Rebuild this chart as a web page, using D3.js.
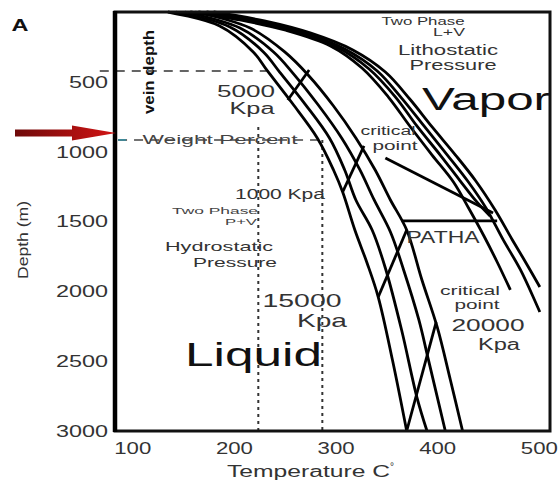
<!DOCTYPE html>
<html><head><meta charset="utf-8">
<script src="https://cdn.jsdelivr.net/npm/d3@7"></script>
<style>body{margin:0;background:#fff}</style>
</head><body>
<svg id="chart" width="558" height="485"></svg>
<script>
// Axis ticks
const depthTicks = [500, 1000, 1500, 2000, 2500, 3000];
const tempTicks = [100, 200, 300, 400, 500];

// Liquid-side boiling curves, [temperature °C, depth m]
const curveL1 = [[135,0],[186,100],[219,286],[233,422],[258,659],[282,902],[298,1131],[307,1289],[319,1561],[331,1797],[342,2041],[356,2492],[370,3000]];
const curveL2 = [[143,0],[196,107],[229,286],[245,430],[270,659],[294,902],[309,1131],[320,1346],[336,1561],[349,1833],[365,2277],[380,2757],[390,3000]];
const curveL3 = [[152,0],[206,115],[239,286],[258,437],[283,666],[306,902],[324,1131],[338,1346],[354,1575],[367,1847],[382,2205],[391,2478],[408,3000]];
const curveL4 = [[162,0],[216,115],[250,286],[273,451],[298,673],[320,902],[339,1131],[354,1346],[370,1561],[385,1919],[400,2255],[413,2635],[425,3000]];

// Cross paths cutting through the liquid-side bundle
const crossPaths = [
  [[274,415],[253,630]],
  [[328,959],[307,1289]],
  [[370,1561],[342,2041]],
  [[399,2220],[370,3000]]
];

// Vapour-side curves
const curveR1 = [[157,0],[206,57],[250,129],[295,243],[326,401],[352,609],[373,816],[395,1024],[416,1217],[432,1418],[446,1604],[459,1790],[472,1990]];
const curveRx = [[165,0],[214,57],[258,136],[301,251],[333,408],[359,609],[380,816],[403,1024],[422,1203],[439,1360],[452,1461]];
const curveR2 = [[173,0],[222,64],[267,143],[309,265],[341,422],[365,616],[387,816],[410,1024],[430,1210],[448,1403],[465,1632],[482,1847],[501,2148]];
const curveR3 = [[180,0],[230,64],[275,150],[317,272],[349,430],[373,623],[395,823],[418,1024],[438,1210],[457,1418],[474,1632],[488,1804],[501,1969]];

// Critical point tie line and path A
const criticalLine = [[349,1045],[455,1439]];
const pathA = [[365,1495],[459,1495]];

// Reference lines
const veinDepth = {depth: 422, from: 68, to: 232};
const weightPercent = {depth: 916, from: 86, to: 283};
const isotherms = [{temp: 224, from: 823}, {temp: 287, from: 916}];
const arrowDepth = 866;

const svg = d3.select("#chart");
const FONT = "'Liberation Sans', Arial, sans-serif";
const x = d3.scaleLinear().domain([83, 511]).range([115, 550]);
const y = d3.scaleLinear().domain([0, 3000]).range([12, 431]);
const line = d3.line().x(d => x(d[0])).y(d => y(d[1])).curve(d3.curveCatmullRom);

// reference dashed / dotted lines
svg.append("line")
  .attr("x1", x(veinDepth.from)).attr("x2", x(veinDepth.to))
  .attr("y1", y(veinDepth.depth)).attr("y2", y(veinDepth.depth))
  .attr("stroke", "#333").attr("stroke-width", 1.6).attr("stroke-dasharray", "9,7");
svg.append("line")
  .attr("x1", x(weightPercent.from)).attr("x2", x(weightPercent.to))
  .attr("y1", y(weightPercent.depth)).attr("y2", y(weightPercent.depth))
  .attr("stroke", "#444").attr("stroke-width", 1.6).attr("stroke-dasharray", "9,7");
svg.append("line")
  .attr("x1", x(weightPercent.from)).attr("x2", x(weightPercent.from) + 8)
  .attr("y1", y(weightPercent.depth)).attr("y2", y(weightPercent.depth))
  .attr("stroke", "#3d8a9a").attr("stroke-width", 1.8);
svg.selectAll("line.iso").data(isotherms).join("line")
  .attr("class", "iso")
  .attr("x1", d => x(d.temp)).attr("x2", d => x(d.temp))
  .attr("y1", d => y(d.from)).attr("y2", y(3000))
  .attr("stroke", "#333").attr("stroke-width", 2).attr("stroke-dasharray", "3,4");

// curves
const curves = [curveL1, curveL2, curveL3, curveL4, curveR1, curveRx, curveR2, curveR3, ...crossPaths, criticalLine, pathA];
svg.selectAll("path.curve").data(curves).join("path")
  .attr("class", "curve")
  .attr("d", line)
  .attr("fill", "none").attr("stroke", "#000").attr("stroke-width", 2.8)
  .attr("stroke-linejoin", "round");

// frame
svg.append("rect").attr("x", 115).attr("y", 12).attr("width", 435).attr("height", 419)
  .attr("fill", "none").attr("stroke", "#111").attr("stroke-width", 3);
svg.append("line").attr("x1", 115).attr("x2", 115).attr("y1", 11).attr("y2", 432)
  .attr("stroke", "#000").attr("stroke-width", 4.5);

// axes
const yAxis = svg.append("g").attr("transform", "translate(115,0)")
  .call(d3.axisLeft(y).tickValues(depthTicks).tickFormat(d3.format("d")).tickSize(0).tickPadding(7));
yAxis.select(".domain").remove();
yAxis.selectAll("text").attr("font-family", FONT).attr("font-size", 17).attr("fill", "#333")
  .attr("textLength", d => String(d).length * 13).attr("lengthAdjust", "spacingAndGlyphs");

const xAxis = svg.append("g").attr("transform", "translate(0,431)")
  .call(d3.axisBottom(x).tickValues(tempTicks).tickFormat(d3.format("d")).tickSize(0).tickPadding(11));
xAxis.select(".domain").remove();
xAxis.selectAll("text").attr("font-family", FONT).attr("font-size", 17).attr("fill", "#333")
  .attr("textLength", 37).attr("lengthAdjust", "spacingAndGlyphs");

// text helper
function label(txt, cx, by, size, len, opts = {}) {
  const t = svg.append("text")
    .attr("x", cx).attr("y", by)
    .attr("text-anchor", opts.anchor || "middle")
    .attr("font-family", FONT).attr("font-size", size)
    .attr("font-weight", opts.bold ? "bold" : "normal")
    .attr("fill", opts.fill || "#222")
    .attr("textLength", len).attr("lengthAdjust", "spacingAndGlyphs")
    .text(txt);
  if (opts.rotate) t.attr("transform", `rotate(-90,${cx},${by})`);
  return t;
}

label("A", 20, 31, 17, 17, {bold: true, fill: "#111"});
label("vein depth", 154, 72, 15, 84, {bold: true, rotate: true, fill: "#111"});
label("Depth (m)", 28, 240, 15, 78, {rotate: true, fill: "#333"});

const xt = svg.append("text").attr("x", 227).attr("y", 477)
  .attr("font-family", FONT).attr("font-size", 16).attr("fill", "#333");
xt.append("tspan").text("Temperature C").attr("textLength", 163).attr("lengthAdjust", "spacingAndGlyphs");
xt.append("tspan").text("°").attr("dy", -7).attr("font-size", 10);

label("Two Phase", 423, 25, 10, 83, {fill: "#333"});
label("L+V", 449, 36, 10, 32, {fill: "#333"});
label("Lithostatic", 448, 55, 14, 100, {fill: "#333"});
label("Pressure", 453, 70, 14, 87, {fill: "#333"});
label("Vapor", 422, 110, 31, 128, {anchor: "start", fill: "#111"});
label("5000", 246, 97, 16, 58, {fill: "#333"});
label("Kpa", 252, 114, 16, 45, {fill: "#333"});
label("critical", 388, 135, 12, 55, {fill: "#333"});
label("point", 395, 150, 12, 45, {fill: "#333"});
label("Weight Percent", 220, 144, 13, 155, {fill: "#444"});
label("1000 Kpa", 280, 199, 14, 90, {fill: "#333"});
label("Two Phase", 215, 214, 9, 86, {fill: "#444"});
label("P+V", 241, 225, 9, 32, {fill: "#444"});
label("Hydrostatic", 219, 251, 13, 108, {fill: "#333"});
label("Pressure", 235, 267, 13, 84, {fill: "#333"});
label("15000", 302, 307, 19, 79, {fill: "#333"});
label("Kpa", 322, 327, 19, 50, {fill: "#333"});
label("Liquid", 185, 366, 33, 137, {anchor: "start", fill: "#111"});
label("PATHA", 443, 243, 16, 73, {fill: "#333"});
label("critical", 470, 295, 13, 60, {fill: "#333"});
label("point", 477, 309, 13, 45, {fill: "#333"});
label("20000", 488, 331, 16, 73, {fill: "#333"});
label("Kpa", 499, 350, 16, 42, {fill: "#333"});

// red arrow marking the sampled depth
const defs = svg.append("defs");
const grad = defs.append("linearGradient").attr("id", "arrowGrad");
grad.append("stop").attr("offset", "0%").attr("stop-color", "#6e0a0a");
grad.append("stop").attr("offset", "100%").attr("stop-color", "#d31414");
const ay = y(arrowDepth);
svg.append("path")
  .attr("d", `M15,${ay - 3.5} L72,${ay - 3.5} L72,${ay - 7.5} L116,${ay} L72,${ay + 7.5} L72,${ay + 3.5} L15,${ay + 3.5} Z`)
  .attr("fill", "url(#arrowGrad)");
</script>
</body></html>
